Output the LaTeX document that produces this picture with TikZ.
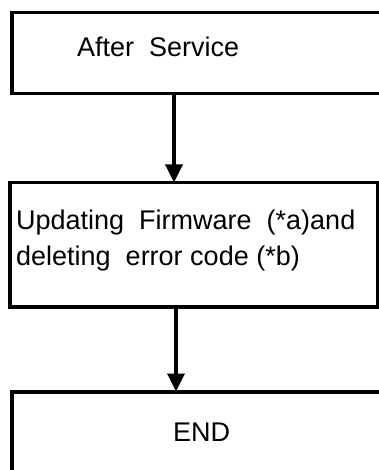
\documentclass[tikz,border=0pt]{standalone}
\usepackage{fontspec}
\setmainfont{Liberation Sans}
\usetikzlibrary{arrows.meta}
\begin{document}
\begin{tikzpicture}[x=1pt,y=1pt,
  box/.style={draw=black, line width=3.5pt, rectangle, inner sep=0pt, anchor=north west},
  txt/.style={anchor=base west, inner sep=0pt, font=\fontsize{27}{36}\selectfont},
  arr/.style={line width=3.5pt, -{Triangle[length=18pt,width=17pt]}, shorten >=-1.5pt}]
\useasboundingbox (0,0) rectangle (379,-470);
\begin{scope}
\clip (0,0) rectangle (379,-470);
\node[box, minimum width=370pt, minimum height=81pt] (b1) at (10,-11) {};
\node[box, minimum width=368pt, minimum height=124pt] (b2) at (8,-181) {};
\node[box, minimum width=370pt, minimum height=95pt] (b3) at (10,-390) {};
\end{scope}
\node[txt] (t1) at (77,-57) {After\ \ Service};
\node[txt] (t2a) at (16,-229) {Updating\ \ Firmware\ \ (*a)and};
\node[txt] (t2b) at (16,-265) {deleting\ \ error code (*b)};
\node[txt] (t3) at (173,-441) {END};
\coordinate (ax1) at (174,0);
\coordinate (ax2) at (176,0);
\draw[arr] (b1.south -| ax1) -- (b2.north -| ax1);
\draw[arr] (b2.south -| ax2) -- (b3.north -| ax2);
\end{tikzpicture}
\end{document}
